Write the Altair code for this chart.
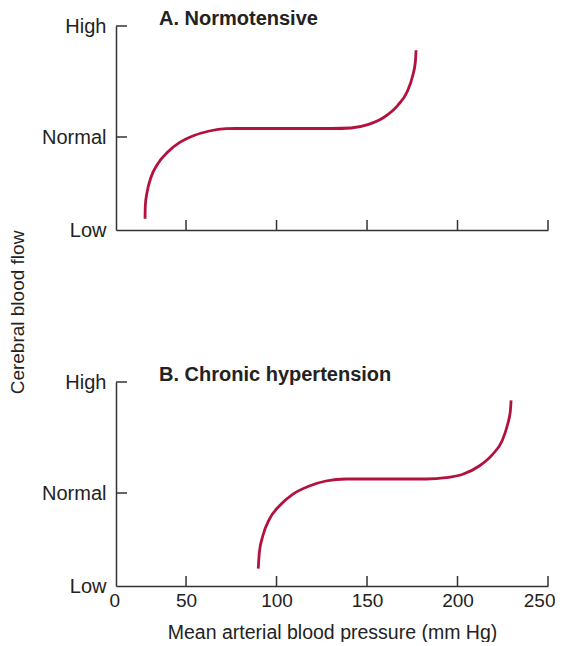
import altair as alt
import pandas as pd

# ---- data ----
levels = ["Low", "Normal", "High"]
level_pos = [0, 93, 204]

x_ticks = [50, 100, 150, 200, 250]
x_min = 11.3  # axis origin, labelled "0"

norm_x = [27.35, 27.5, 28.5, 30.7, 34.4, 39.9, 46.3, 53.7, 62.9, 72.1, 77.6,
          130.1, 141.2, 150.4, 159.6, 167.0, 172.1, 175.3, 176.7, 177.1]
norm_y = [11.3, 24.7, 38, 53, 66.3, 78, 87.3, 94, 99, 101.3, 101.5,
          101.5, 102, 105.3, 113, 124.7, 138, 154.7, 168, 179.7]

hyp_x = [89.9, 90.5, 92.4, 96.0, 101.5, 108.9, 118.1, 127.3, 138.4,
         182.6, 193.6, 202.9, 212.0, 219.4, 224.6, 227.7, 229.2, 229.6]
hyp_y = [17.3, 33.3, 50, 66.7, 80, 91.7, 100, 105, 107,
         107, 108.3, 111.7, 120, 131.7, 145, 161.7, 175, 185.7]

titles = ["A. Normotensive", "B. Chronic hypertension"]

FONT = "Liberation Sans"
AX = "#333333"
CURVE = "#b3123e"
W, H = 432, 204

ytick_df = pd.DataFrame({"y": level_pos[1:]})
xtick_df = pd.DataFrame({"x": x_ticks})


def panel(xs, ys, title, show_xlabels, show_ytitle):
    df = pd.DataFrame({"x": xs, "y": ys})
    xaxis = alt.Axis(
        values=[x_min] + x_ticks,
        labelExpr="datum.value < 20 ? '0' : datum.label",
        labels=show_xlabels,
        labelFlush=True,
        labelFlushOffset=7,
        labelOverlap=False,
        ticks=False,
        grid=False,
        domainColor=AX,
        domainWidth=1.5,
        labelFont=FONT,
        labelFontSize=19,
        labelColor="#222",
        labelPadding=5,
        title="Mean arterial blood pressure (mm Hg)" if show_xlabels else None,
        titleFont=FONT,
        titleFontSize=19.5,
        titleFontWeight="normal",
        titleColor="#222",
        titlePadding=13,
    )
    yaxis_kwargs = dict(
        values=level_pos,
        labelExpr="datum.value == 0 ? 'Low' : (datum.value < 150 ? 'Normal' : 'High')",
        ticks=False,
        grid=False,
        domainColor=AX,
        domainWidth=1.5,
        labelFont=FONT,
        labelFontSize=20,
        labelColor="#222",
        labelPadding=10,
        titleFont=FONT,
        titleFontSize=19,
        titleFontWeight="normal",
        titleColor="#222",
    )
    if show_ytitle:
        yaxis = alt.Axis(title="Cerebral blood flow", titleX=-89, titleY=286, **yaxis_kwargs)
    else:
        yaxis = alt.Axis(title=None, **yaxis_kwargs)

    xs_scale = alt.Scale(domain=[x_min, 250], nice=False, zero=False)
    ys_scale = alt.Scale(domain=[0, 204], nice=False, zero=False)

    line = alt.Chart(df).mark_line(
        color=CURVE, strokeWidth=2.8, interpolate="monotone"
    ).encode(
        x=alt.X("x:Q", scale=xs_scale, axis=xaxis),
        y=alt.Y("y:Q", scale=ys_scale, axis=yaxis),
    )
    yt = alt.Chart(ytick_df).mark_rule(color=AX, strokeWidth=1.5).encode(
        y=alt.Y("y:Q", scale=ys_scale), x=alt.value(0), x2=alt.value(11)
    )
    xt = alt.Chart(xtick_df).mark_rule(color=AX, strokeWidth=1.5).encode(
        x=alt.X("x:Q", scale=xs_scale), y=alt.value(H - 10), y2=alt.value(H)
    )
    return alt.layer(yt, xt, line).properties(
        width=W,
        height=H,
        title=alt.TitleParams(
            title,
            anchor="start",
            frame="group",
            dx=43,
            offset=-13,
            font=FONT,
            fontSize=20,
            fontWeight="bold",
            color="#222",
        ),
    )


top = panel(norm_x, norm_y, titles[0], False, True)
bottom = panel(hyp_x, hyp_y, titles[1], True, False)

chart = alt.vconcat(top, bottom, spacing=152, bounds="flush").properties(
    padding={"left": 0, "right": 0, "top": 1, "bottom": 0}
).configure_view(stroke=None)

chart.save("out.html", embed_options={"renderer": "svg", "actions": False})
